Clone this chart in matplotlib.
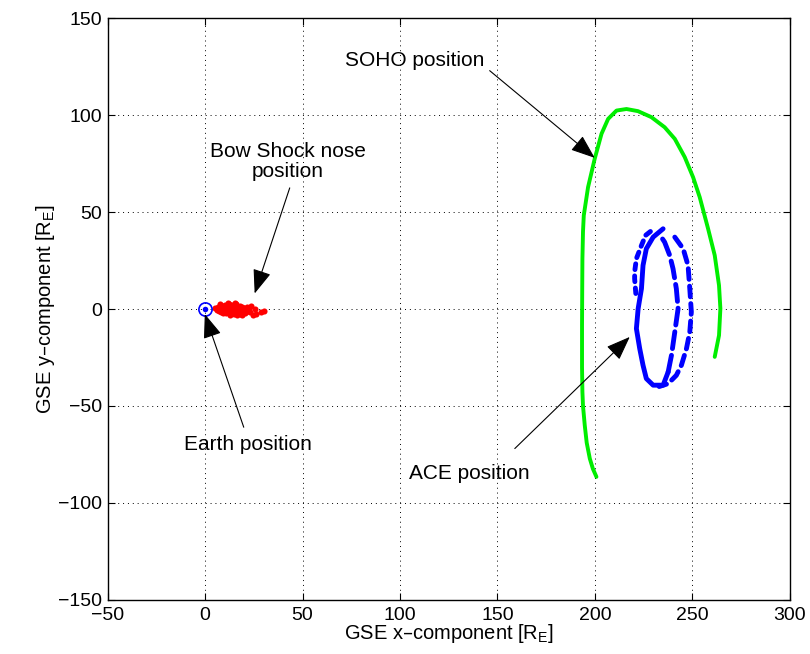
import matplotlib
matplotlib.use("Agg")
import matplotlib.pyplot as plt
import numpy as np

plt.rcParams["font.family"] = ["Liberation Sans", "DejaVu Sans"]

# SOHO trajectory (GSE, R_E)
soho_x = [200.8, 199.0, 197.4, 195.8, 194.8, 193.9, 193.6, 193.4, 193.4, 193.5,
          193.6, 193.9, 194.3, 196.5, 199.9, 203.4, 206.8, 211.1, 216.2, 222.1,
          229.0, 235.8, 241.0, 246.1, 250.4, 253.8, 258.1, 261.5, 263.7, 264.4,
          263.7, 261.5]
soho_y = [-86.6, -82.5, -77.2, -69.0, -60.0, -50.0, -42.8, -30.0, -8.4, 10.0,
          25.9, 40.0, 48.3, 62.9, 77.5, 90.4, 98.1, 102.4, 103.2, 102.1,
          99.0, 93.8, 87.8, 78.4, 68.0, 57.7, 41.4, 27.7, 12.2, 0.2,
          -13.6, -24.7]

# ACE trajectory: inner loop, left side (solid)
ace_a_x = [235.0, 229.9, 226.4, 224.7, 223.9, 222.2, 221.3, 223.0, 224.7, 226.4,
           229.9, 235.0, 237.6]
ace_a_y = [41.4, 37.1, 31.1, 22.5, 10.5, 0.2, -10.1, -20.4, -29.0, -35.9,
           -39.3, -39.3, -32.5]
# ACE inner loop, right side (long dashes)
ace_b_x = [237.6, 239.3, 241.0, 242.7, 241.8, 240.1, 238.4, 235.8, 234.1]
ace_b_y = [-32.5, -23.9, -11.9, 0.2, 10.5, 20.8, 27.7, 34.5, 37.1]
# ACE outer loop, left side (short dashes)
ace_c_x = [228.5, 226.0, 223.9, 221.3, 220.4, 220.4, 221.0]
ace_c_y = [40.0, 38.0, 32.8, 26.0, 19.1, 15.6, 8.0]
# ACE outer loop, right side (dashes)
ace_d_x = [241.0, 245.3, 247.8, 248.7, 249.5, 248.7, 247.0, 244.4, 241.8, 237.6,
           233.0]
ace_d_y = [37.1, 31.1, 22.5, 10.5, -1.5, -11.9, -20.4, -29.0, -34.2, -38.5,
           -40.0]

# Bow shock nose positions
bs_x = [5.0, 6.0, 6.5, 7.0, 7.5, 7.5, 8.0, 8.5, 8.5, 9.0, 9.0, 9.5, 10.0, 10.0,
        10.5, 11.0, 11.0, 11.5, 12.0, 12.0, 12.5, 13.0, 13.0, 13.5, 14.0, 14.0,
        14.5, 15.0, 15.0, 15.5, 16.0, 16.0, 16.5, 17.0, 17.0, 17.5, 18.0, 18.0,
        18.5, 19.0, 19.5, 20.0, 20.5, 21.0, 21.5, 22.0, 22.5, 23.0, 23.7, 25.4,
        26.3, 28.9, 30.0, 24.5, 12.5, 15.5, 11.5, 19.0, 16.5, 13.5]
bs_y = [0.3, -0.6, 0.9, -1.0, 0.2, 2.7, -1.5, 0.8, -0.2, 1.6, -1.8, 0.4, 2.0, -0.9,
        -2.2, 1.0, -0.3, -1.6, 2.4, 0.5, -2.6, 1.6, -0.8, 0.3, 2.2, -2.0,
        -0.6, 1.1, -2.8, 0.2, 2.4, -1.4, -3.0, 0.8, -0.4, -1.9, 1.7, -2.6,
        0.0, 1.0, -1.2, 0.4, -2.0, -0.6, 0.9, -1.0, 0.3, -1.6, 1.5, 0.2,
        -2.4, -1.5, -1.0, -3.0, -3.2, 3.0, 2.9, -2.9, 1.8, -1.5]

fig = plt.figure(figsize=(8.1, 6.54), dpi=100)
ax = fig.add_axes([0.133, 0.083, 0.842, 0.889])

ax.plot(soho_x, soho_y, color="#00ee00", lw=2.8, solid_capstyle="round",
        solid_joinstyle="round")

blue = "#0000ff"
lw_ace = 3.5
ax.plot(ace_a_x, ace_a_y, color=blue, lw=lw_ace, solid_capstyle="round",
        solid_joinstyle="round")
ax.plot(ace_b_x, ace_b_y, color=blue, lw=lw_ace, linestyle=(0, (3.5, 1.4)),
        dash_capstyle="round", dash_joinstyle="round")
ax.plot(ace_c_x, ace_c_y, color=blue, lw=lw_ace, linestyle=(0, (1.2, 1.3)),
        dash_capstyle="round", dash_joinstyle="round")
ax.plot(ace_d_x, ace_d_y, color=blue, lw=lw_ace, linestyle=(0, (2.2, 1.4)),
        dash_capstyle="round", dash_joinstyle="round")

ax.plot(bs_x, bs_y, "o", color="red", markersize=4.4, mew=0)

# Earth
ax.plot([0], [0], "o", mfc="none", mec=blue, markersize=9.5, mew=1.2)
ax.plot([0], [0], "o", color=blue, markersize=4, mew=0)

ax.set_xlim(-50, 300)
ax.set_ylim(-150, 150)
ax.set_xticks(np.arange(-50, 301, 50))
ax.set_yticks(np.arange(-150, 151, 50))
ax.grid(True, linestyle=(0, (1, 4)), color="k", lw=0.7)
ax.tick_params(direction="in", top=True, right=True, labelsize=14, length=5)
ax.tick_params(axis="x", pad=5)
ax.tick_params(axis="y", pad=4)
for s in ax.spines.values():
    s.set_linewidth(1.0)

ax.set_xlabel("GSE x\u2013component [R$_\\mathregular{E}$]", fontsize=14.5, labelpad=-1)
ax.set_ylabel("GSE y\u2013component [R$_\\mathregular{E}$]", fontsize=14.5, labelpad=1)

arrow = dict(arrowstyle="-|>,head_length=1.0,head_width=0.38", color="k", lw=0.8,
             shrinkA=0, shrinkB=0, mutation_scale=15)

ax.text(107.5, 128.0, "SOHO position", fontsize=15, ha="center", va="center")
ax.annotate("", xy=(199.9, 78.0), xytext=(146.0, 123.0), arrowprops=arrow)

ax.text(42.5, 76.0, "Bow Shock nose\nposition", fontsize=15, ha="center",
        va="center", linespacing=1.1)
ax.annotate("", xy=(25.4, 8.0), xytext=(43.4, 62.5), arrowprops=arrow)

ax.text(21.8, -70.0, "Earth position", fontsize=15, ha="center", va="center")
ax.annotate("", xy=(-0.2, -2.6), xytext=(19.8, -61.0), arrowprops=arrow)

ax.text(135.8, -85.0, "ACE position", fontsize=15, ha="center", va="center")
ax.annotate("", xy=(217.9, -14.4), xytext=(158.9, -72.0), arrowprops=arrow)

fig.savefig("out.png", dpi=100)
